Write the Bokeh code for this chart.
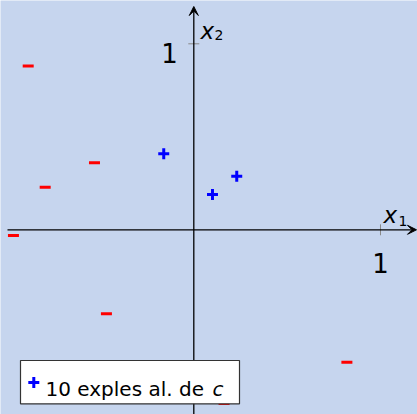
from bokeh.plotting import figure
from bokeh.models import Range1d, Arrow, VeeHead, Label, BoxAnnotation
from bokeh.embed import file_html
from bokeh.resources import INLINE

# ---- data ----
neg_x = [-0.887, -0.532, -0.796, -0.966, -0.468, 0.820, 0.162]
neg_y = [0.880, 0.360, 0.229, -0.031, -0.452, -0.712, -0.934]
pos_x = [-0.161, 0.230, 0.100]
pos_y = [0.409, 0.288, 0.190]
x_tick_labels = ["1"]
y_tick_labels = ["1"]
legend_label = "10 exples al. de"
legend_var = "c"

BG = "#C6D5EE"
W, H = 417, 414
X0, X1 = -1.0354, 1.1982
Y0, Y1 = -0.993, 1.2328

p = figure(width=W, height=H, x_range=Range1d(X0, X1), y_range=Range1d(Y0, Y1),
           output_backend="svg", toolbar_location=None,
           x_axis_type=None, y_axis_type=None, min_border=0)
p.grid.visible = False
p.outline_line_color = None
p.background_fill_color = BG
p.border_fill_color = BG

# screen px (from top-left of the figure) -> data, for decoration placement
def sx(px):
    return X0 + px / W * (X1 - X0)

def sy(py):
    return Y1 - py / H * (Y1 - Y0)

# axes with arrows
head = dict(size=9, fill_color="black", line_color="black", line_width=1)
p.add_layout(Arrow(end=VeeHead(**head), x_start=sx(7), y_start=0, x_end=sx(416), y_end=0,
                   line_color="black", line_width=1.3))
p.add_layout(Arrow(end=VeeHead(**head), x_start=0, y_start=Y0, x_end=0, y_end=sy(6),
                   line_color="black", line_width=1.3))

# ticks
tick = 5.5 / 186.5
p.segment(x0=[1], y0=[-tick], x1=[1], y1=[tick], line_color="#888888", line_width=1)
p.segment(x0=[-tick], y0=[1], x1=[tick], y1=[1], line_color="#888888", line_width=1)

font = "DejaVu Sans"
p.add_layout(Label(x=1, y=0, text=x_tick_labels[0], text_align="center",
                   text_baseline="alphabetic", y_offset=-33,
                   text_font=font, text_font_size="26px", text_color="black"))
p.add_layout(Label(x=0, y=1, text=y_tick_labels[0], text_align="right",
                   text_baseline="alphabetic", x_offset=-16, y_offset=-9,
                   text_font=font, text_font_size="26px", text_color="black"))

# axis names
p.add_layout(Label(x=sx(383), y=0, text="x", y_offset=15,
                   text_font=font, text_font_style="italic", text_font_size="23px",
                   text_baseline="alphabetic", text_color="black"))
p.add_layout(Label(x=sx(398), y=0, text="1", y_offset=9,
                   text_font=font, text_font_size="14px",
                   text_baseline="alphabetic", text_color="black"))
p.add_layout(Label(x=sx(200), y=sy(30), text="x",
                   text_font=font, text_font_style="italic", text_font_size="23px",
                   text_baseline="alphabetic", text_color="black"))
p.add_layout(Label(x=sx(214), y=sy(34), text="2",
                   text_font=font, text_font_size="14px",
                   text_baseline="alphabetic", text_color="black"))

# points
p.scatter(neg_x, neg_y, marker="dash", size=11, line_width=3, line_color="#FF0000")
p.scatter(pos_x, pos_y, marker="cross", size=11, line_width=3, line_color="#0000FF")

# legend box (manual)
p.add_layout(BoxAnnotation(left=sx(20), right=sx(239), top=sy(360), bottom=sy(403.3),
                           fill_color="white", fill_alpha=1.0,
                           line_color="#333333", line_width=1.2, line_alpha=1.0))
p.scatter([sx(33.3)], [sy(382)], marker="cross", size=11, line_width=3,
          line_color="#0000FF", level="overlay")
p.add_layout(Label(x=sx(45), y=sy(388.3), text=legend_label, text_font=font,
                   text_font_size="20px", text_baseline="alphabetic",
                   text_color="black", level="overlay"))
p.add_layout(Label(x=sx(212), y=sy(388.3), text=legend_var, text_font=font,
                   text_font_style="italic", text_font_size="20px",
                   text_baseline="alphabetic", text_color="black", level="overlay"))

open("out.html", "w").write(file_html(p, INLINE))
